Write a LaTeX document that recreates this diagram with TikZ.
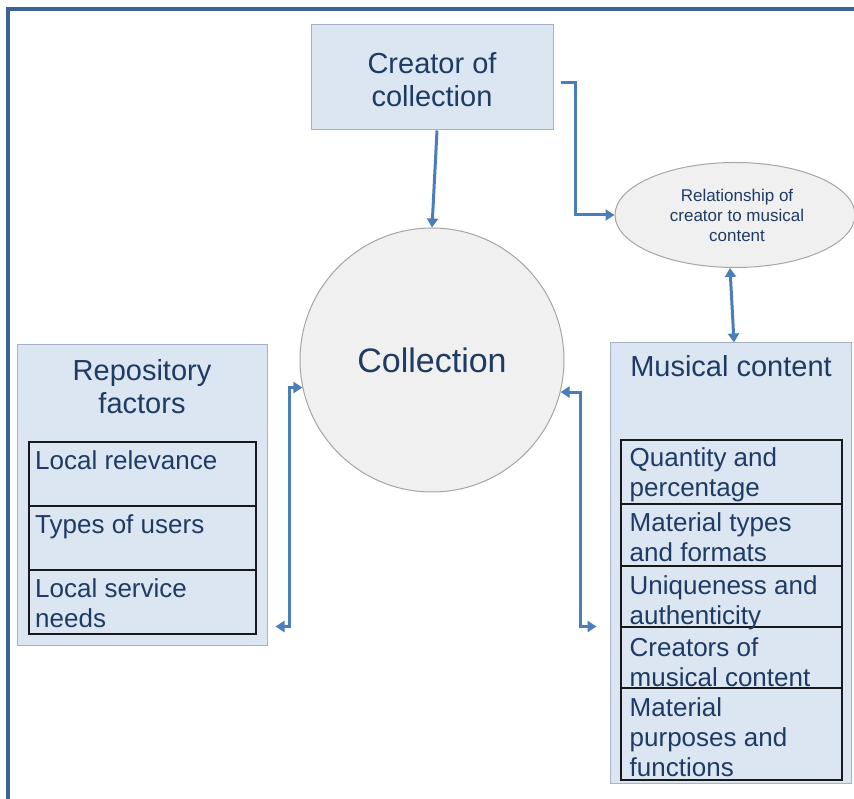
\documentclass[tikz,border=0pt]{standalone}
\usepackage{fontspec}
\setmainfont{Liberation Sans}
\usetikzlibrary{arrows.meta,calc,shapes.geometric}
\definecolor{framecol}{HTML}{3B6396}
\definecolor{boxfill}{HTML}{DCE6F2}
\definecolor{boxline}{HTML}{A3B2C6}
\definecolor{txtcol}{HTML}{1F3B64}
\definecolor{arrcol}{HTML}{4A7EBB}
\definecolor{circfill}{HTML}{F0F0F0}
\definecolor{circline}{HTML}{A6A6A6}
\tikzset{
  outerbox/.style={rectangle,draw=boxline,fill=boxfill,line width=1pt,inner sep=0pt},
  rowbox/.style={rectangle,draw=black!90,line width=1.5pt,inner sep=0pt},
  titletxt/.style={text=txtcol,font=\fontsize{29}{33}\selectfont,align=center,inner sep=0pt},
  rowtxt/.style={text=txtcol,font=\fontsize{26}{30}\selectfont,align=left,inner sep=0pt,anchor=north west},
  arr/.style={draw=arrcol,line width=3pt,-{Triangle[length=9pt,width=11pt]}},
  arrtwo/.style={draw=arrcol,line width=3pt,{Triangle[length=9pt,width=11pt]}-{Triangle[length=9pt,width=11pt]}},
}
\begin{document}
\begin{tikzpicture}[x=1pt,y=-1pt]
\useasboundingbox (0,0) rectangle (854,799);
\fill[white] (0,0) rectangle (854,799);
% frame
\draw[framecol,line width=3.5pt] (8,799) -- (8,9) -- (854,9);
% creator box
\node[outerbox,minimum width=242pt,minimum height=105pt] (cr) at (432,77.5) {};
\node[titletxt,anchor=north] (crt) at (432,52) {Creator of\\collection};
% collection circle
\node[circle,draw=circline,fill=circfill,line width=1pt,minimum size=264pt,inner sep=0pt] (coll) at (432,360) {};
\node[text=txtcol,font=\fontsize{34}{40}\selectfont,inner sep=0pt] (collt) at (432,360.5) {Collection};
% relationship ellipse
\node[ellipse,draw=circline,fill=circfill,line width=1pt,minimum width=240pt,minimum height=105pt,inner sep=0pt] (rel) at (735,215) {};
\node[text=txtcol,font=\fontsize{17}{20}\selectfont,align=center,inner sep=0pt,anchor=north] (relt) at (737,189) {Relationship of\\creator to musical\\content};
% repository box
\node[outerbox,minimum width=250pt,minimum height=300pt] (rep) at (142,495) {};
\node[titletxt,anchor=north] (rept) at (142,359) {Repository\\factors};
\node[rowbox,minimum width=227pt,minimum height=64pt] (r1) at (142.5,474) {};
\node[rowbox,minimum width=227pt,minimum height=64pt] (r2) at (142.5,538) {};
\node[rowbox,minimum width=227pt,minimum height=64pt] (r3) at (142.5,602) {};
\node[rowtxt] (r1t) at (35,450) {Local relevance};
\node[rowtxt] (r2t) at (35,514) {Types of users};
\node[rowtxt] (r3t) at (35,578) {Local service\\needs};
% musical content box
\node[outerbox,minimum width=241pt,minimum height=440pt] (mus) at (730.5,563) {};
\node[titletxt,anchor=north] (must) at (731,355) {Musical content};
\node[rowbox,minimum width=221pt,minimum height=64pt] (m1) at (731.5,472) {};
\node[rowbox,minimum width=221pt,minimum height=62pt] (m2) at (731.5,535) {};
\node[rowbox,minimum width=221pt,minimum height=61pt] (m3) at (731.5,596.5) {};
\node[rowbox,minimum width=221pt,minimum height=61pt] (m4) at (731.5,657.5) {};
\node[rowbox,minimum width=221pt,minimum height=92pt] (m5) at (731.5,734) {};
\node[rowtxt] (m1t) at (629.5,447) {Quantity and\\percentage};
\node[rowtxt] (m2t) at (629.5,512) {Material types\\and formats};
\node[rowtxt] (m3t) at (629.5,575) {Uniqueness and\\authenticity};
\node[rowtxt] (m4t) at (629.5,637) {Creators of\\musical content};
\node[rowtxt] (m5t) at (629.5,697) {Material\\purposes and\\functions};
% connectors
\draw[arr] ([xshift=5]cr.south) -- (coll.north);
\draw[arr] ([shift={(7,5.5)}]cr.east) -- ++(15,0) |- (rel.west);
\draw[arrtwo] ([xshift=-5]rel.south) -- ([xshift=3.5]mus.north);
\draw[arrtwo] (coll.192.4) -- ++(-13,0) |- ([shift={(8,-19)}]rep.south east);
\draw[arrtwo] (coll.346.5) -- ++(20,0) |- ([shift={(-13,-157)}]mus.south west);
\end{tikzpicture}
\end{document}
